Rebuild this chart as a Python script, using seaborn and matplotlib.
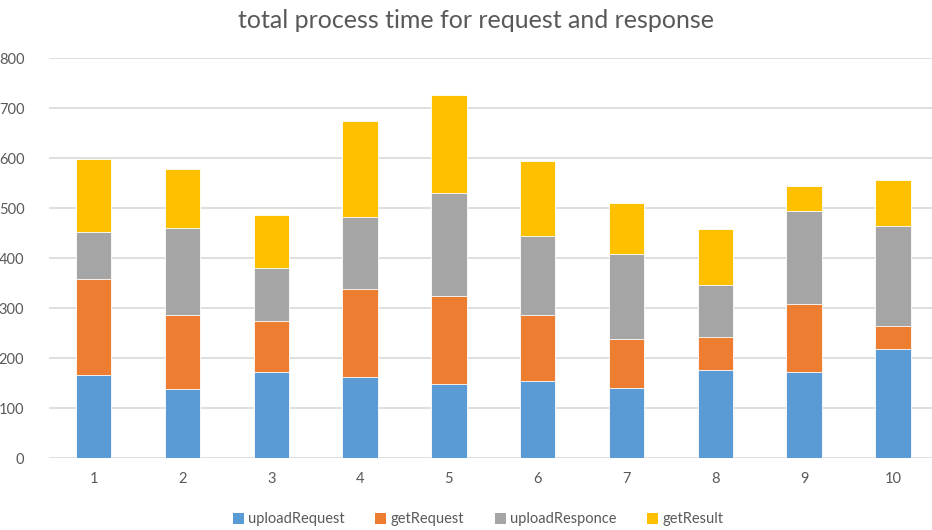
import numpy as np
import pandas as pd
import matplotlib
matplotlib.use("Agg")
import matplotlib.pyplot as plt
from matplotlib.patches import Patch
import seaborn as sns

runs = ["1", "2", "3", "4", "5", "6", "7", "8", "9", "10"]
upload_request = [167, 139, 172, 162, 149, 155, 140, 176, 173, 219]
get_request = [191, 147, 102, 177, 176, 132, 98, 67, 136, 46]
upload_responce = [95, 175, 106, 143, 205, 157, 171, 104, 185, 199]
get_result = [146, 118, 107, 192, 197, 151, 102, 111, 51, 93]

series_names = ["uploadRequest", "getRequest", "uploadResponce", "getResult"]
series_colors = ["#5B9BD5", "#ED7D31", "#A5A5A5", "#FFC000"]

df = pd.DataFrame({
    "run": runs,
    "uploadRequest": upload_request,
    "getRequest": get_request,
    "uploadResponce": upload_responce,
    "getResult": get_result,
})

sns.set_theme(style="white")
plt.rcParams["font.family"] = ["Lato", "DejaVu Sans"]
text_color = "#595959"

fig = plt.figure(figsize=(9.32, 5.30), dpi=100)
ax = fig.add_axes([49.3 / 932, 71.7 / 530, (932 - 49.3) / 932, 400 / 530])

# stacked bars: draw cumulative totals from the top segment down
cum = df[series_names].cumsum(axis=1)
for name, color in reversed(list(zip(series_names, series_colors))):
    sns.barplot(x=df["run"], y=cum[name], color=color, width=0.4,
                saturation=1, edgecolor="white", linewidth=0.6, ax=ax, zorder=3)

ax.set_ylim(0, 800)
ax.set_xlim(-0.5, 9.44)
ax.set_yticks(np.arange(0, 801, 100))
ax.yaxis.grid(True, color="#D9D9D9", linewidth=1.2, zorder=0)
ax.set_axisbelow(True)
for s in ax.spines.values():
    s.set_visible(False)
ax.set_xlabel("")
ax.set_ylabel("")
ax.tick_params(axis="both", length=0, labelsize=10.5, colors=text_color)
ax.tick_params(axis="x", pad=10)
ax.tick_params(axis="y", pad=18)

fig.text(0.511, 0.962, "total process time for request and response",
         ha="center", va="center", fontsize=18, color=text_color)

handles = [Patch(facecolor=c, edgecolor="none") for c in series_colors]
fig.legend(handles, series_names, loc="center", bbox_to_anchor=(0.513, 0.02),
           ncol=4, frameon=False, fontsize=10.5, labelcolor=text_color,
           handlelength=0.75, handleheight=0.75, handletextpad=0.3,
           columnspacing=2.1)

fig.savefig("out.png", dpi=100)
